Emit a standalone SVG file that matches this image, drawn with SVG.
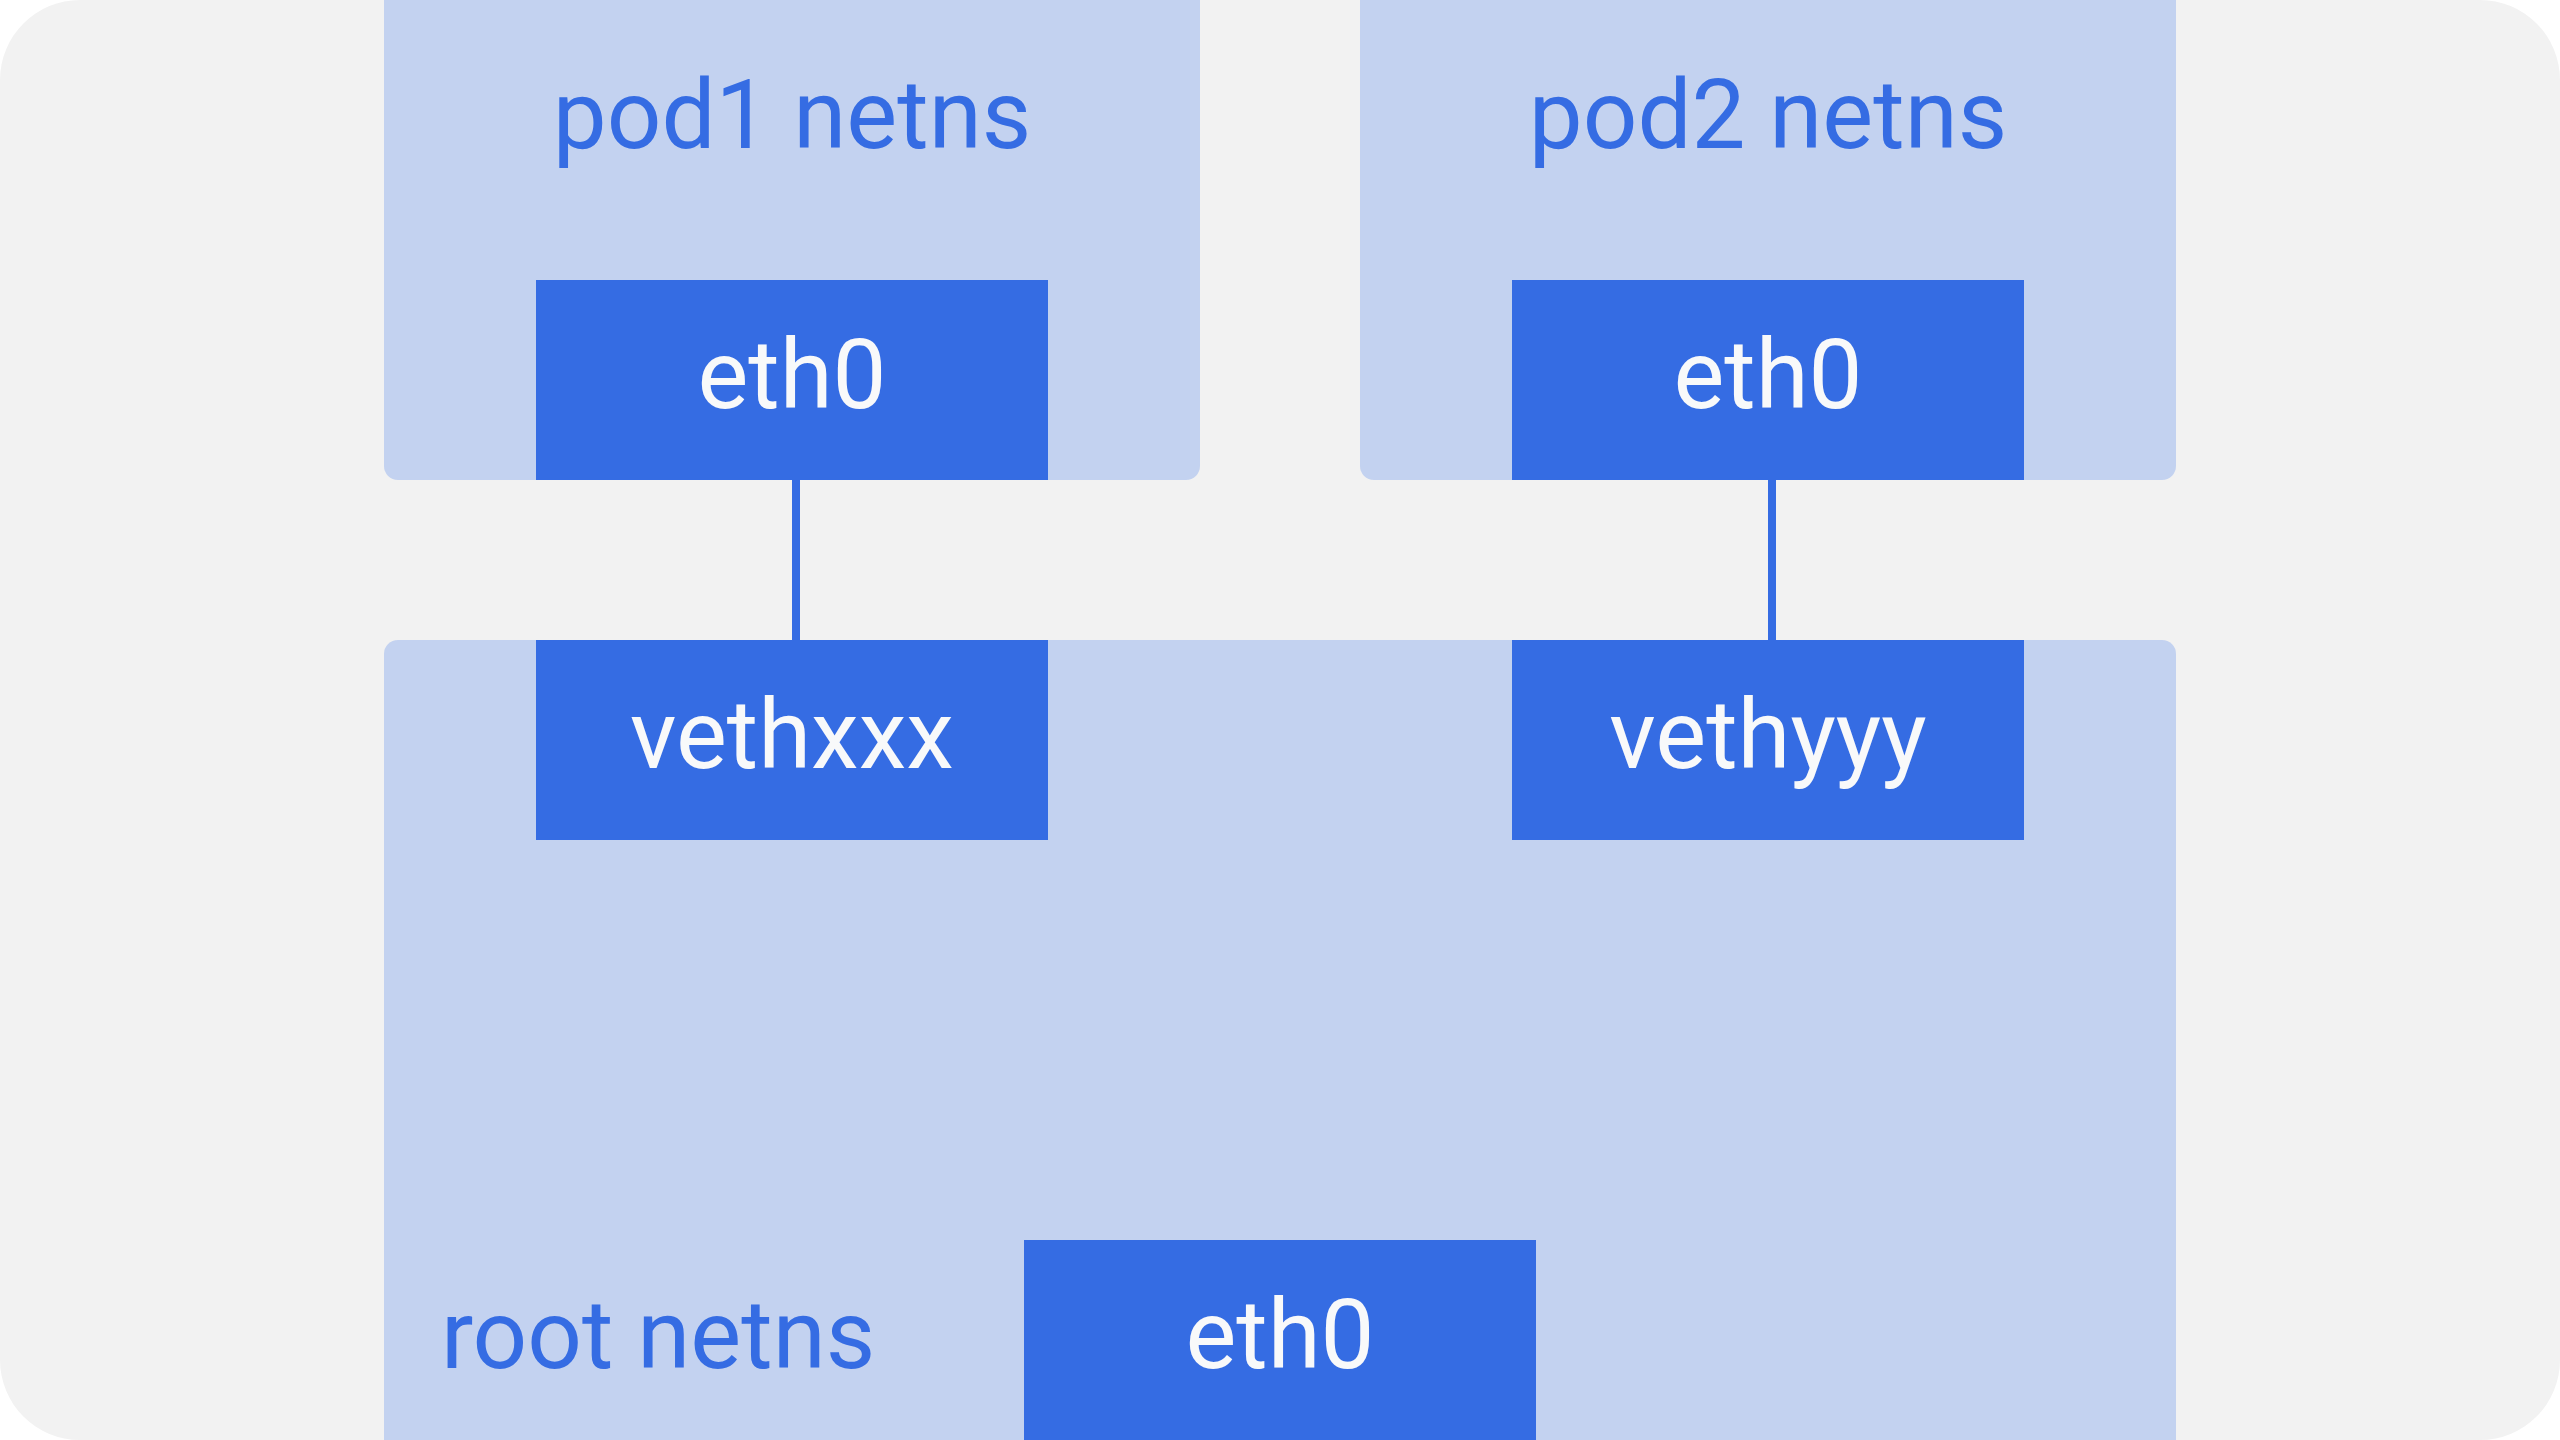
<svg xmlns="http://www.w3.org/2000/svg" width="2560" height="1440" viewBox="0 0 2560 1440">
<style>
.ns{fill:#c3d2f0}
.if{fill:#356ce3}
.lbl{font-family:Roboto,"Liberation Sans",sans-serif;font-size:96px;fill:#356ce3}
.iflbl{font-family:Roboto,"Liberation Sans",sans-serif;font-size:96px;fill:#f8f9fa;text-anchor:middle}
.conn{stroke:#356ce3;stroke-width:8;fill:none}
</style>
<rect x="0" y="0" width="2560" height="1440" fill="#ffffff"/>
<rect id="background" x="0" y="0" width="2560" height="1440" rx="80" ry="80" fill="#f2f2f2"/>
<g id="pod1-netns">
<rect class="ns" x="384" y="-40" width="816" height="520" rx="14" ry="14"/>
<text class="lbl" x="792" y="148" text-anchor="middle">pod1 netns</text>
</g>
<g id="pod2-netns">
<rect class="ns" x="1360" y="-40" width="816" height="520" rx="14" ry="14"/>
<text class="lbl" x="1768" y="148" text-anchor="middle">pod2 netns</text>
</g>
<g id="root-netns">
<rect class="ns" x="384" y="640" width="1792" height="840" rx="14" ry="14"/>
<text class="lbl" x="441" y="1368">root netns</text>
</g>
<g id="connectors">
<line class="conn" x1="796" y1="480" x2="796" y2="640"/>
<line class="conn" x1="1772" y1="480" x2="1772" y2="640"/>
</g>
<g id="pod1-eth0">
<rect class="if" x="536" y="280" width="512" height="200"/>
<text class="iflbl" x="792" y="408">eth0</text>
</g>
<g id="pod2-eth0">
<rect class="if" x="1512" y="280" width="512" height="200"/>
<text class="iflbl" x="1768" y="408">eth0</text>
</g>
<g id="vethxxx">
<rect class="if" x="536" y="640" width="512" height="200"/>
<text class="iflbl" x="792" y="768">vethxxx</text>
</g>
<g id="vethyyy">
<rect class="if" x="1512" y="640" width="512" height="200"/>
<text class="iflbl" x="1768" y="768">vethyyy</text>
</g>
<g id="root-eth0">
<rect class="if" x="1024" y="1240" width="512" height="220"/>
<text class="iflbl" x="1280" y="1368">eth0</text>
</g>
</svg>
